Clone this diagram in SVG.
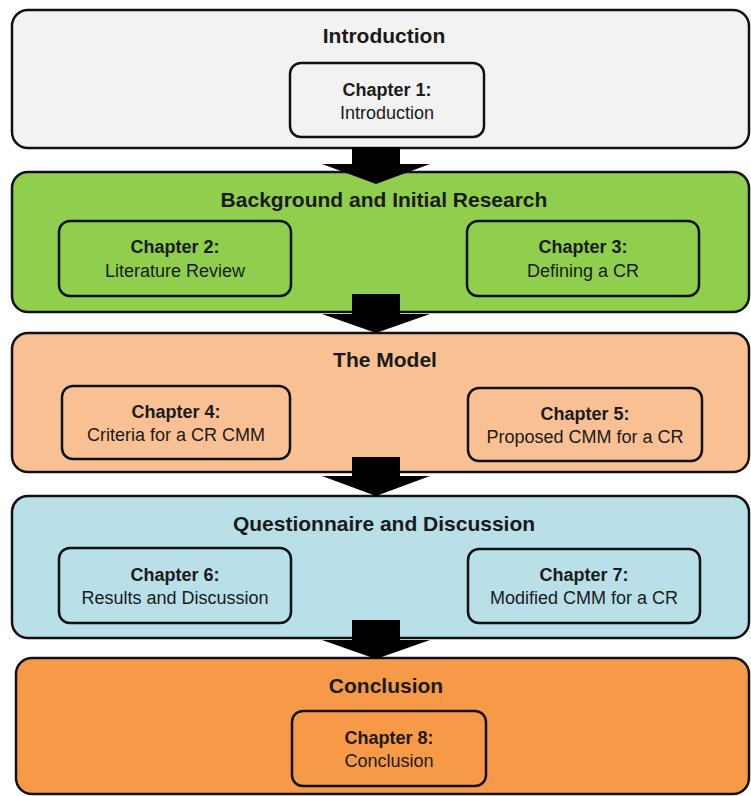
<svg xmlns="http://www.w3.org/2000/svg" width="751" height="796" viewBox="0 0 751 796">
<style>
.sec{stroke:#111;stroke-width:2.5}
.ch{stroke:#111;stroke-width:2.5}
.title{font-family:"Liberation Sans",Arial,sans-serif;font-size:21px;font-weight:bold;fill:#1a1a1a;text-anchor:middle}
.lab{font-family:"Liberation Sans",Arial,sans-serif;font-size:18px;font-weight:bold;fill:#1a1a1a;text-anchor:middle}
.sub{font-family:"Liberation Sans",Arial,sans-serif;font-size:18px;fill:#1a1a1a;text-anchor:middle}
.arrow{fill:#000}
</style>
<rect width="751" height="796" fill="#ffffff"/>

<g id="sec-intro">
<rect class="sec" x="12" y="10" width="737" height="138" rx="16" fill="#f2f2f2"/>
<text class="title" x="384" y="43">Introduction</text>
</g>
<g id="ch1">
<rect class="ch" x="290" y="63" width="194" height="74" rx="11" fill="#f2f2f2"/>
<text class="lab" x="387" y="96">Chapter 1:</text>
<text class="sub" x="387" y="119">Introduction</text>
</g>

<g id="sec-background">
<rect class="sec" x="12" y="172" width="737" height="140" rx="16" fill="#8fcf4d"/>
<text class="title" x="384" y="207">Background and Initial Research</text>
</g>
<g id="ch2">
<rect class="ch" x="59" y="221" width="232" height="75" rx="11" fill="#8fcf4d"/>
<text class="lab" x="175" y="253">Chapter 2:</text>
<text class="sub" x="175" y="277">Literature Review</text>
</g>
<g id="ch3">
<rect class="ch" x="467" y="221" width="232" height="75" rx="11" fill="#8fcf4d"/>
<text class="lab" x="583" y="253">Chapter 3:</text>
<text class="sub" x="583" y="277">Defining a CR</text>
</g>

<g id="sec-model">
<rect class="sec" x="12" y="333" width="737" height="139" rx="16" fill="#f9c193"/>
<text class="title" x="385" y="367">The Model</text>
</g>
<g id="ch4">
<rect class="ch" x="62" y="386" width="228" height="73" rx="11" fill="#f9c193"/>
<text class="lab" x="176" y="418">Chapter 4:</text>
<text class="sub" x="176" y="441">Criteria for a CR CMM</text>
</g>
<g id="ch5">
<rect class="ch" x="468" y="388" width="234" height="73" rx="11" fill="#f9c193"/>
<text class="lab" x="585" y="420">Chapter 5:</text>
<text class="sub" x="585" y="443">Proposed CMM for a CR</text>
</g>

<g id="sec-questionnaire">
<rect class="sec" x="12" y="496" width="737" height="142" rx="16" fill="#b9dfe9"/>
<text class="title" x="384" y="531">Questionnaire and Discussion</text>
</g>
<g id="ch6">
<rect class="ch" x="59" y="548" width="232" height="75" rx="11" fill="#b9dfe9"/>
<text class="lab" x="175" y="581">Chapter 6:</text>
<text class="sub" x="175" y="604">Results and Discussion</text>
</g>
<g id="ch7">
<rect class="ch" x="468" y="549" width="232" height="74" rx="11" fill="#b9dfe9"/>
<text class="lab" x="584" y="581">Chapter 7:</text>
<text class="sub" x="584" y="604">Modified CMM for a CR</text>
</g>

<g id="sec-conclusion">
<rect class="sec" x="16" y="658" width="733" height="136" rx="16" fill="#f79a47"/>
<text class="title" x="386" y="693">Conclusion</text>
</g>
<g id="ch8">
<rect class="ch" x="292" y="711" width="194" height="75" rx="11" fill="#f79a47"/>
<text class="lab" x="389" y="744">Chapter 8:</text>
<text class="sub" x="389" y="767">Conclusion</text>
</g>

<g id="connectors">
<polygon class="arrow" points="352,147 400,147 400,164 430,164 376,184 322,164 352,164"/>
<polygon class="arrow" points="352,294 400,294 400,314 430,314 376,333 322,314 352,314"/>
<polygon class="arrow" points="352,457 400,457 400,476 430,476 376,496 322,476 352,476"/>
<polygon class="arrow" points="352,620 400,620 400,640 430,640 376,659 322,640 352,640"/>
</g>
</svg>
